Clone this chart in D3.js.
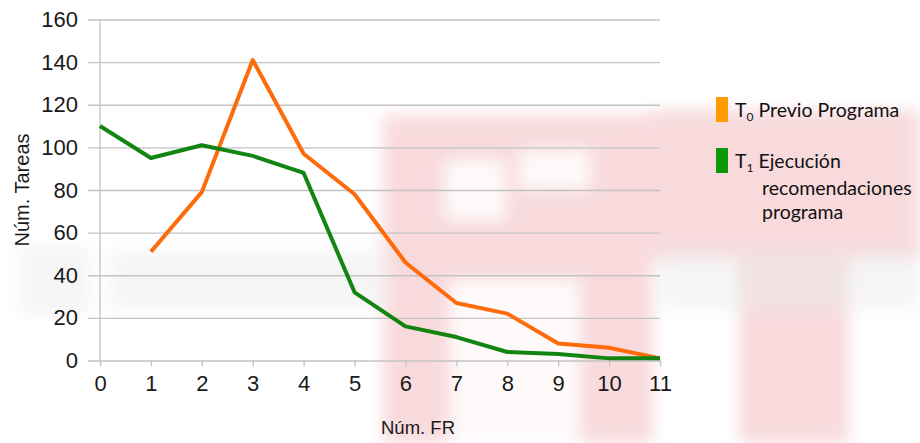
<!DOCTYPE html>
<html><head><meta charset="utf-8">
<script src="https://cdn.jsdelivr.net/npm/d3@7"></script>
<style>body{margin:0;background:#fff}svg{display:block}</style>
</head><body>
<svg id="c" width="920" height="443"></svg>
<script>
const xTicks = [0,1,2,3,4,5,6,7,8,9,10,11];
const yTicks = [0,20,40,60,80,100,120,140,160];
const t0X = [1,2,3,4,5,6,7,8,9,10,11];
const t0Values = [51,79,141,97,78,46,27,22,8,6,1];
const t1X = [0,1,2,3,4,5,6,7,8,9,10,11];
const t1Values = [110,95,101,96,88,32,16,11,4,3,1,1];
const seriesNames = ["Previo Programa", "Ejecución"];

const svg = d3.select("#c");
const defs = svg.append("defs");
defs.append("filter").attr("id","blur").append("feGaussianBlur").attr("stdDeviation",8);

// faint watermark background (shapes only)
const wm = svg.append("g").attr("filter","url(#blur)");
const pink = "#f8dadd";
[[383,115,270,328],[650,110,270,150],[739,255,110,188]].forEach(r=>{
  wm.append("rect").attr("x",r[0]).attr("y",r[1]).attr("width",r[2]).attr("height",r[3]).attr("fill",pink);
});
[[445,160,60,60],[520,150,70,40],[450,280,130,163],[850,265,70,178]].forEach(r=>{
  wm.append("rect").attr("x",r[0]).attr("y",r[1]).attr("width",r[2]).attr("height",r[3]).attr("fill","#fff").attr("opacity",0.85);
});
const wg = svg.append("g").attr("filter","url(#blur)").attr("opacity",0.45);
[[20,245,70,70],[110,250,280,60],[660,250,260,60]].forEach(r=>{
  wg.append("rect").attr("x",r[0]).attr("y",r[1]).attr("width",r[2]).attr("height",r[3]).attr("fill","#eaeaea");
});

const x = d3.scaleLinear().domain([0,11]).range([100,660]);
const y = d3.scaleLinear().domain([0,160]).range([360.5,19.5]);

const font = "Liberation Sans, Arial, sans-serif";
const grid = "#c3c3c3";

// gridlines + y axis
const yAxis = d3.axisLeft(y).tickValues(yTicks).tickSize(572).tickPadding(10).tickFormat(d3.format("d"));
const gy = svg.append("g").attr("transform","translate(660,0)").call(yAxis);
gy.select(".domain").remove();
gy.selectAll(".tick line").attr("stroke",grid).attr("stroke-width",1.3);
gy.selectAll(".tick text").attr("font-family",font).attr("font-size",22).attr("fill","#1a1a1a");

svg.append("line").attr("x1",100).attr("x2",100).attr("y1",y(160)).attr("y2",y(0)).attr("stroke",grid).attr("stroke-width",1.3);

const xAxis = d3.axisBottom(x).tickValues(xTicks).tickSize(6).tickPadding(9).tickFormat(d3.format("d"));
const gx = svg.append("g").attr("transform",`translate(0,${y(0)})`).call(xAxis);
gx.select(".domain").remove();
gx.selectAll(".tick line").attr("stroke",grid).attr("stroke-width",1.3);
gx.selectAll(".tick text").attr("font-family",font).attr("font-size",22).attr("fill","#1a1a1a");

// axis titles
svg.append("text").attr("x",418).attr("y",434).attr("text-anchor","middle").attr("font-family",font)
  .attr("font-size",18.5).attr("fill","#1a1a1a").text("Núm. FR");
svg.append("text").attr("transform","translate(29,190) rotate(-90)").attr("text-anchor","middle").attr("font-family",font)
  .attr("font-size",20).attr("fill","#1a1a1a").text("Núm. Tareas");

// lines
const line = d3.line().x(d=>x(d[0])).y(d=>y(d[1]));
svg.append("path").datum(t0X.map((v,i)=>[v,t0Values[i]])).attr("d",line)
  .attr("fill","none").attr("stroke","#ff6a0a").attr("stroke-width",4).attr("stroke-linejoin","round");
svg.append("path").datum(t1X.map((v,i)=>[v,t1Values[i]])).attr("d",line)
  .attr("fill","none").attr("stroke","#128412").attr("stroke-width",4).attr("stroke-linejoin","round");

// legend
const lf = "Lato, 'Open Sans', sans-serif";
const fs = 19.5;
svg.append("rect").attr("x",716).attr("y",97).attr("width",12).attr("height",25).attr("fill","#ff9a00");
svg.append("rect").attr("x",716).attr("y",148).attr("width",12).attr("height",25).attr("fill","#0b980b");
const l1 = svg.append("text").attr("x",735).attr("y",117).attr("font-family",lf).attr("font-size",fs).attr("fill","#111");
l1.append("tspan").text("T");
l1.append("tspan").attr("font-size",12).attr("dy",4).text("0");
l1.append("tspan").attr("dy",-4).text(" " + seriesNames[0]);
const l2 = svg.append("text").attr("x",735).attr("y",168).attr("font-family",lf).attr("font-size",fs).attr("fill","#111");
l2.append("tspan").text("T");
l2.append("tspan").attr("font-size",12).attr("dy",4).text("1");
l2.append("tspan").attr("dy",-4).text(" " + seriesNames[1]);
svg.append("text").attr("x",762).attr("y",195).attr("font-family",lf).attr("font-size",fs).attr("fill","#111").text("recomendaciones");
svg.append("text").attr("x",762).attr("y",219).attr("font-family",lf).attr("font-size",fs).attr("fill","#111").text("programa");
</script>
</body></html>
